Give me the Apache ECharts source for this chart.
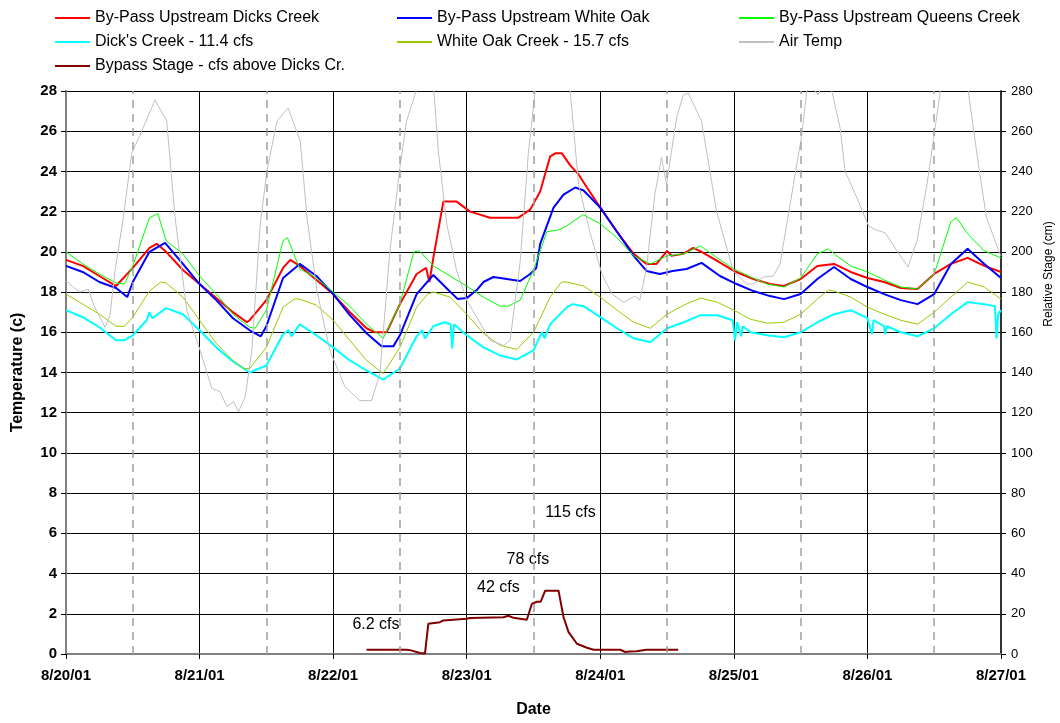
<!DOCTYPE html>
<html>
<head>
<meta charset="utf-8">
<script src="https://cdn.jsdelivr.net/npm/echarts@6/dist/echarts.min.js"></script>
<style>html,body{margin:0;padding:0;background:#fff;}#chart{width:1060px;height:723px;}</style>
</head>
<body>
<div id="chart"></div>
<script>
// x values are hours since 8/20/01 00:00
const xTickLabels = ['8/20/01','8/21/01','8/22/01','8/23/01','8/24/01','8/25/01','8/26/01','8/27/01'];
const noonHours = [12, 36, 60, 84, 108, 132, 156];

const dicksBypass = [[0,19.6],[3,19.3],[6,18.8],[9,18.3],[12,19.2],[15,20.2],[16.3,20.4],[18,20.0],[21,19.1],[24,18.4],[27,17.7],[30,17.0],[32.5,16.5],[33,16.6],[36,17.6],[39,19.2],[40.3,19.6],[42,19.3],[45,18.6],[48,17.9],[51,17.0],[54,16.2],[55.5,16.0],[57.6,16.0],[60,17.4],[63,18.9],[64.7,19.2],[65.3,18.5],[66,19.7],[67.8,22.5],[70.2,22.5],[72.6,22.0],[73.8,21.9],[76.2,21.7],[81.3,21.7],[83.4,22.1],[85.2,23.0],[87,24.75],[87.9,24.9],[89.1,24.9],[90.6,24.3],[92.1,23.85],[93.6,23.2],[96,22.2],[99,21.0],[102,19.9],[104.3,19.4],[106.1,19.4],[108,20.05],[108.8,19.8],[110.9,19.9],[112.7,20.2],[114.2,20.0],[117,19.55],[120,19.05],[123.5,18.65],[126.5,18.4],[129,18.3],[132,18.65],[135,19.3],[138,19.4],[141,19.0],[144,18.7],[147,18.5],[150,18.2],[153,18.15],[156,18.9],[159,19.4],[162,19.7],[165,19.3],[168,19.0]];

const whiteOakBypass = [[0,19.3],[3,19.0],[6,18.5],[9,18.2],[11,17.75],[12,18.5],[15,20.0],[17.8,20.45],[21,19.4],[24,18.4],[27,17.6],[30,16.7],[33,16.1],[35,15.8],[36,16.3],[39,18.7],[42,19.4],[45,18.8],[48,17.9],[51,16.85],[54,15.95],[56.7,15.3],[58.8,15.3],[60,15.85],[63,17.9],[66,18.85],[68.7,18.1],[70.4,17.65],[72,17.7],[73.8,18.1],[75,18.5],[76.8,18.75],[79.2,18.65],[81.6,18.55],[83.4,18.9],[84.5,19.2],[85.2,20.4],[87.6,22.2],[89.4,22.85],[91.5,23.2],[93,23.05],[96,22.2],[99,21.0],[102,19.8],[104.3,19.05],[106.7,18.9],[109,19.05],[111.5,19.15],[114.2,19.45],[117.5,18.8],[120.5,18.4],[123.5,18.05],[126.5,17.8],[129,17.65],[132,17.9],[135,18.65],[138,19.25],[141,18.65],[144,18.25],[147,17.9],[150,17.6],[153,17.4],[156,17.9],[159,19.4],[162,20.15],[165,19.4],[168,18.7]];

const queensBypass = [[0,20.0],[3,19.4],[6,18.9],[9,18.45],[10.5,18.4],[12,19.3],[15,21.7],[16.5,21.9],[18,20.55],[21,19.9],[24,18.8],[27,17.9],[30,16.9],[33,16.25],[34,16.2],[36,17.1],[39,20.55],[39.8,20.7],[42,19.15],[45,18.7],[48,18.0],[51,17.3],[54,16.4],[57,15.7],[60,17.4],[62.5,20.0],[63.5,20.05],[66,19.3],[69,18.8],[72,18.3],[75,17.75],[78,17.3],[79.5,17.3],[81.6,17.6],[84,19.1],[86.4,21.0],[88.6,21.1],[90,21.3],[92.9,21.85],[96,21.4],[99,20.7],[102,19.8],[105,19.4],[108,19.8],[111,19.9],[114,20.3],[117,19.7],[120,19.15],[123,18.75],[126,18.4],[129,18.25],[132,18.7],[135,19.9],[137,20.15],[138,19.9],[141,19.3],[144,19.0],[147,18.6],[150,18.25],[153,18.15],[156,18.9],[159,21.5],[160,21.7],[162,20.9],[165,20.05],[168,19.7]];

const dicksCreek = [[0,17.1],[3,16.75],[6,16.25],[9,15.6],[10.5,15.6],[12,15.85],[14.5,16.6],[15,17.0],[15.5,16.7],[18,17.2],[21,16.9],[24,16.1],[27,15.25],[30,14.55],[33,14.0],[36,14.35],[39,15.9],[40,16.1],[40.5,15.8],[42,16.4],[45,15.85],[48,15.25],[51,14.6],[54,14.1],[57,13.65],[60,14.2],[63,15.8],[64,16.1],[64.5,15.7],[66,16.3],[68,16.5],[69.1,16.4],[69.4,15.2],[69.7,16.4],[72,15.85],[75,15.25],[78,14.85],[81,14.65],[84,15.1],[85.5,16.0],[86,15.7],[87,16.4],[90,17.25],[91,17.4],[93,17.3],[96,16.75],[99,16.2],[102,15.7],[105,15.5],[108,16.2],[111,16.5],[114,16.85],[117,16.85],[119.8,16.6],[120.2,15.6],[120.6,16.5],[121.3,15.8],[121.6,16.3],[123,16.0],[126,15.85],[129,15.75],[132,16.0],[135,16.5],[138,16.9],[141,17.1],[144,16.7],[144.8,15.9],[145.1,16.6],[147,16.3],[147.2,15.9],[147.5,16.3],[150,16.0],[153,15.8],[156,16.2],[159,16.9],[162,17.5],[165,17.4],[166.9,17.3],[167.2,15.7],[167.5,16.9],[168,17.1]];

const whiteOakCreek = [[0,17.9],[3,17.4],[6,16.9],[9,16.3],[10.5,16.3],[12,16.75],[15,18.05],[17,18.5],[18,18.45],[21,17.75],[24,16.6],[27,15.45],[30,14.6],[32,14.2],[33,14.2],[36,15.25],[39,17.25],[41,17.65],[42,17.65],[45,17.35],[48,16.6],[51,15.6],[54,14.6],[57,13.95],[60,15.25],[63,17.25],[65,17.9],[66,18.0],[69,17.75],[72,16.9],[75,15.95],[78,15.35],[81,15.15],[84,16.0],[87,17.75],[89,18.5],[90,18.5],[93,18.3],[96,17.75],[99,17.1],[102,16.5],[105,16.2],[108,16.9],[111,17.35],[114,17.7],[117,17.5],[120,17.1],[123,16.65],[126,16.45],[129,16.5],[132,16.9],[135,17.65],[137,18.1],[138,18.05],[141,17.75],[144,17.25],[147,16.9],[150,16.6],[153,16.4],[156,17.0],[159,17.75],[162,18.5],[165,18.25],[168,17.65]];

const airTemp = [[0,18.55],[1.3,18.25],[2.5,18.0],[4.0,18.15],[4.9,17.4],[7.0,16.25],[7.9,16.85],[8.8,19.05],[10.3,21.7],[11.8,24.9],[13.6,26.0],[16.0,27.55],[18.1,26.5],[19.6,21.7],[21.7,17.1],[24.1,15.1],[26.2,13.2],[27.7,13.05],[28.9,12.3],[30.1,12.55],[31.0,12.05],[32.2,12.8],[33.4,15.1],[34.9,21.4],[36.1,24.0],[37.9,26.5],[39.9,27.15],[42.1,25.5],[43.3,21.7],[45.1,18.05],[47.4,15.1],[50.1,13.3],[52.8,12.6],[54.9,12.6],[56.4,13.95],[58.2,20.05],[60,24.2],[61.2,26.5],[62.9,28.0],[64.5,30.5],[66.1,28.0],[66.9,25.0],[68.4,21.4],[70.2,19.05],[72,17.6],[73.8,16.75],[76.2,15.6],[78.6,15.35],[79.8,15.6],[81.6,19.5],[83.1,25.0],[84.3,28.0],[87.5,31.0],[90.6,28.0],[92.1,23.35],[94.2,20.9],[96.3,18.9],[98.1,17.9],[100.2,17.5],[102.2,17.8],[103.1,17.6],[104.3,19.2],[105.8,22.85],[107,24.7],[107.9,23.35],[109.7,26.65],[110.9,27.8],[111.8,27.9],[114.2,26.5],[116.9,22.0],[119.9,19.05],[122.3,18.4],[123.5,18.4],[125.3,18.75],[127.1,18.8],[128.3,19.4],[130.7,23.35],[132.2,25.8],[133.1,28.0],[134.2,28.2],[135.1,27.8],[136.5,28.6],[137.6,28.0],[139.1,26.15],[140,24.0],[142.1,22.7],[144.2,21.3],[145.4,21.1],[147.2,20.95],[149.3,20.05],[151.3,19.25],[152.9,20.55],[154.7,23.35],[155.9,25.65],[157.1,28.0],[159.5,30.5],[162.1,28.0],[164.2,23.85],[165.4,21.7],[167.8,19.9],[168,19.8]];

// relative stage (cm), right axis
const bypassStage = [[54,2.1],[61.2,2.1],[62,1.8],[63.6,0.5],[64.5,0.2],[65.1,15.0],[67.2,15.8],[67.8,16.7],[72,17.5],[72.6,17.9],[78.6,18.3],[79.5,19.0],[80.4,18.0],[82.8,17.0],[83.7,24.9],[84.6,26.0],[85.3,26.0],[86.1,31.5],[88.5,31.5],[89.4,18.3],[90.3,10.9],[91.8,5.1],[93.6,3.1],[94.8,2.1],[99.6,2.1],[100.5,1.0],[101.3,1.2],[102.5,1.4],[104.3,2.1],[110,2.1]];

const flowLabels = ['115 cfs', '78 cfs', '42 cfs', '6.2 cfs'];
const flowLabelHours = [90.65, 83.0, 77.7, 55.7];
const flowLabelStage = [70.2, 47.2, 33.1, 14.5];

const names = ['By-Pass Upstream Dicks Creek','By-Pass Upstream White Oak','By-Pass Upstream Queens Creek',"Dick's Creek - 11.4 cfs",'White Oak Creek - 15.7 cfs','Air Temp','Bypass Stage - cfs above Dicks Cr.'];

const FONT = 'Liberation Sans, Arial, sans-serif';
const chart = echarts.init(document.getElementById('chart'), null, {renderer:'canvas'});

function lineSeries(name, data, color, width, yIdx) {
  return {type:'line', name, data, yAxisIndex: yIdx || 0, showSymbol:false, symbol:'none',
    lineStyle:{color, width}, itemStyle:{color}, animation:false, smooth:false, z:3};
}
function legendCol(left, data) {
  return {orient:'vertical', left, top:10, data, itemWidth:35, itemHeight:12, itemGap:8, padding:0,
    itemStyle:{opacity:0}, textStyle:{fontSize:16, lineHeight:16, color:'#000', fontFamily:FONT}, selectedMode:false};
}

const option = {
  animation:false,
  backgroundColor:'#fff',
  textStyle:{fontFamily:FONT},
  grid:{left:66, right:59, top:91, bottom:64, show:false},
  legend:[
    legendCol(54, [names[0], names[3], names[6]]),
    legendCol(396, [names[1], names[4]]),
    legendCol(738, [names[2], names[5]])
  ],
  xAxis:{type:'value', min:0, max:168, interval:24,
    axisLine:{show:true, onZero:false, lineStyle:{color:'#808080', width:2}},
    axisTick:{show:true, length:5, lineStyle:{color:'#000'}},
    axisLabel:{formatter:v=>xTickLabels[Math.round(v/24)], fontWeight:'bold', fontSize:15, color:'#000', margin:14, fontFamily:FONT},
    splitLine:{show:true, lineStyle:{color:'#000', width:1}},
    name:'Date', nameLocation:'middle', nameGap:48,
    nameTextStyle:{fontWeight:'bold', fontSize:16, color:'#000', fontFamily:FONT}},
  yAxis:[
    {type:'value', min:0, max:28, interval:2, position:'left',
      axisLine:{show:true, lineStyle:{color:'#808080', width:2}},
      axisTick:{show:true, length:5, lineStyle:{color:'#000'}},
      axisLabel:{fontWeight:'bold', fontSize:15, color:'#000', margin:9, fontFamily:FONT},
      splitLine:{show:true, lineStyle:{color:'#000', width:1}},
      name:'Temperature (c)', nameLocation:'middle', nameRotate:90, nameGap:40,
      nameTextStyle:{fontWeight:'bold', fontSize:16, color:'#000', fontFamily:FONT}},
    {type:'value', min:0, max:280, interval:20, position:'right',
      axisLine:{show:true, lineStyle:{color:'#333', width:2}},
      axisTick:{show:true, length:5, lineStyle:{color:'#000'}},
      axisLabel:{fontSize:13, color:'#000', margin:10, fontFamily:FONT},
      splitLine:{show:false}}
  ],
  graphic:[{type:'text', x:1049, y:274, rotation:Math.PI/2,
    style:{text:'Relative Stage (cm)', fontSize:12, fontFamily:FONT, fill:'#000', align:'center', verticalAlign:'middle'}}],
  series:[
    {type:'line', name:'noon', data:[], z:1, silent:true,
      markLine:{silent:true, symbol:['none','none'], label:{show:false}, animation:false,
        lineStyle:{color:'#a0a0a0', type:[8,6], width:1.5},
        data: noonHours.map(h=>({xAxis:h}))}},
    lineSeries(names[0], dicksBypass, '#FF0000', 2),
    lineSeries(names[1], whiteOakBypass, '#0000FF', 2),
    lineSeries(names[2], queensBypass, '#00FF00', 1),
    lineSeries(names[3], dicksCreek, '#00FFFF', 2),
    lineSeries(names[4], whiteOakCreek, '#99CC00', 1),
    lineSeries(names[5], airTemp, '#C0C0C0', 1),
    lineSeries(names[6], bypassStage, '#800000', 2, 1),
    {type:'scatter', name:'flow labels', yAxisIndex:1, symbolSize:0, silent:true, z:4,
      itemStyle:{opacity:1},
      data: flowLabels.map((t,i)=>[flowLabelHours[i], flowLabelStage[i], t]),
      label:{show:true, position:'inside', opacity:1, formatter:p=>p.data[2], fontSize:16, color:'#000', fontFamily:FONT}}
  ]
};
chart.setOption(option);
</script>
</body>
</html>
